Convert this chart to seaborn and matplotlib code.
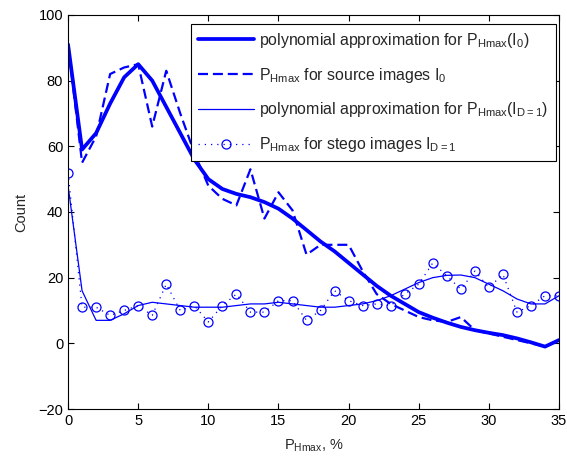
#!/usr/bin/env python3

"""
Histogram of P_Hmax for source and stego images, with polynomial fits.
"""

import matplotlib

matplotlib.use("Agg")
import matplotlib.pyplot as plt
import numpy as np
import pandas as pd
import seaborn as sns

# Data.
p_hmax = np.arange(0, 36)

# polynomial approximation for P_Hmax(I_0)
poly_source = [
    91, 59, 64, 73, 81, 85, 80, 72, 64, 56,
    50, 47, 45.5, 44.5, 43, 41, 38, 34.5, 31, 28,
    24.5, 21, 17.5, 14.5, 12, 9.5, 7.8, 6.3, 5, 4,
    3.2, 2.5, 1.5, 0.3, -1, 1,
]

# P_Hmax for source images I_0
count_source = [
    91, 55, 63, 82, 84, 85, 66, 83, 70, 58,
    48, 44, 42, 53, 38, 46, 40.5, 27, 30, 30,
    30, 22, 15, 12, 10, 8, 7, 6.5, 8, 4,
    3, 2, 1, 0, -1, 1,
]

# polynomial approximation for P_Hmax(I_D=1)
poly_stego = [
    48, 16, 7, 7, 9, 11.5, 12.5, 12, 11.5, 11,
    11, 11, 11.5, 12, 12, 12.5, 12, 11.5, 11, 11,
    11.5, 12, 13, 14.5, 16.5, 18.5, 20, 20.7, 20.8, 20,
    18, 16, 13.5, 12, 12, 14.5,
]

# P_Hmax for stego images I_D=1
count_stego = [
    52, 11, 11, 8.5, 10, 11.5, 8.5, 18, 10, 11.5,
    6.5, 11.5, 15, 9.5, 9.5, 13, 13, 7, 10, 16,
    13, 11.5, 12, 11.5, 15, 18, 24.5, 20.5, 16.5, 22,
    17, 21, 9.5, 11.5, 14.5, 14.5,
]

labels = [
    "polynomial approximation for P$_{Hmax}$(I$_{0}$)",
    "P$_{Hmax}$ for source images I$_{0}$",
    "polynomial approximation for P$_{Hmax}$(I$_{D=1}$)",
    "P$_{Hmax}$ for stego images I$_{D=1}$",
]

df = pd.DataFrame(
    {
        "x": p_hmax,
        "poly_source": poly_source,
        "count_source": count_source,
        "poly_stego": poly_stego,
        "count_stego": count_stego,
    }
)

sns.set_style("ticks")
plt.rcParams["font.family"] = ["Liberation Sans", "DejaVu Sans"]
plt.rcParams["mathtext.default"] = "regular"
plt.rcParams["font.size"] = 10.5

fig = plt.figure(figsize=(5.67, 4.62), dpi=100)
ax = fig.add_axes([0.12, 0.1147, 0.866, 0.853])

blue = "#0000ff"
sns.lineplot(data=df, x="x", y="poly_source", ax=ax, color=blue,
             linewidth=2.7, label=labels[0])
sns.lineplot(data=df, x="x", y="count_source", ax=ax, color=blue,
             linewidth=1.6, linestyle=(0, (4.5, 2.2)), label=labels[1])
sns.lineplot(data=df, x="x", y="poly_stego", ax=ax, color=blue,
             linewidth=0.9, label=labels[2])
sns.lineplot(data=df, x="x", y="count_stego", ax=ax, color=blue,
             linewidth=0.9, linestyle=(0, (1, 4)), marker="o",
             markersize=6.5, markerfacecolor="none", markeredgecolor=blue,
             markeredgewidth=0.9, label=labels[3])

ax.set_xlim(0, 35)
ax.set_ylim(-20, 100)
ax.set_xticks(np.arange(0, 36, 5))
ax.set_yticks(np.arange(-20, 101, 20))
ax.tick_params(direction="in", top=True, right=True, length=4,
               width=0.8, labelsize=10.5, colors="black")
for spine in ax.spines.values():
    spine.set_visible(True)
    spine.set_linewidth(0.8)
    spine.set_color("black")

ax.set_xlabel("P$_{Hmax}$, %", fontsize=10.5, labelpad=7)
ax.set_ylabel("Count", fontsize=10.5, labelpad=7)

leg = ax.legend(loc="upper right", bbox_to_anchor=(0.993, 0.978),
                borderaxespad=0, fontsize=11.4, handlelength=3.5,
                handletextpad=0.35, labelspacing=1.0, borderpad=0.45,
                fancybox=False, framealpha=1, edgecolor="black")
leg.get_frame().set_linewidth(0.8)

plt.savefig("out.png", dpi=100)
plt.close()
